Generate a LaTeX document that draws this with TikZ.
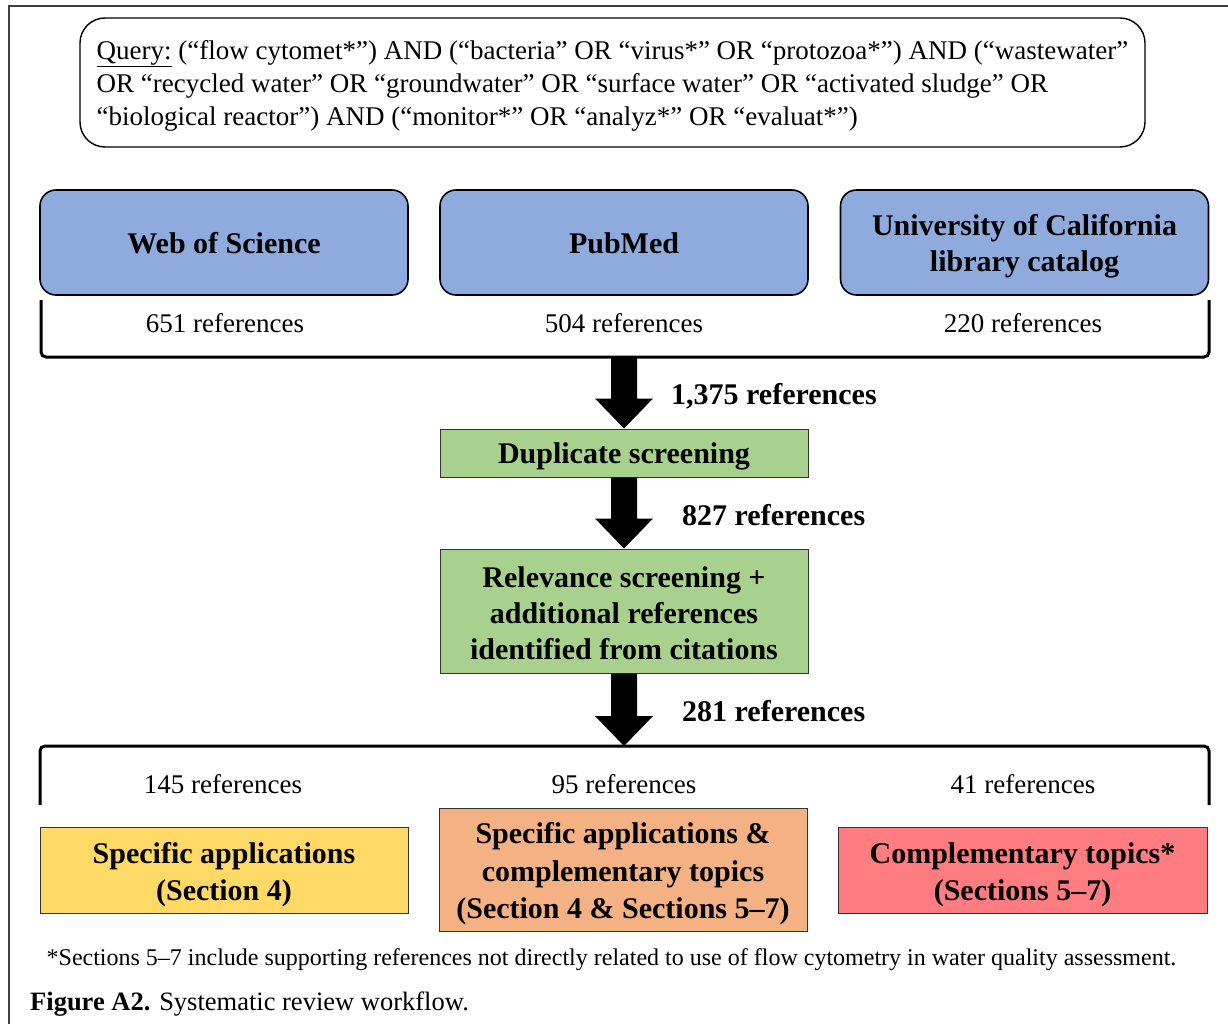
\documentclass[tikz,border=0pt]{standalone}
\usepackage{fontspec}
\setmainfont{Liberation Serif}
\usetikzlibrary{calc}
\definecolor{dbblue}{HTML}{8FAADC}
\definecolor{stepgreen}{HTML}{A9D18E}
\definecolor{outyellow}{HTML}{FFD966}
\definecolor{outorange}{HTML}{F4B183}
\definecolor{outred}{HTML}{FF7C80}
\newcommand\flowarrow[2]{%
  \fill ($(#1)+(-13,0)$) -- ($(#2)+(-13,-30)$) -- ($(#2)+(-29,-30)$) -- (#2)
        -- ($(#2)+(29,-30)$) -- ($(#2)+(13,-30)$) -- ($(#1)+(13,0)$) -- cycle;}
\begin{document}
\begin{tikzpicture}[x=1pt,y=-1pt,
  bfont/.style={font=\fontsize{30}{36}\selectfont\bfseries},
  rfont/.style={font=\fontsize{27}{33}\selectfont},
  dbbox/.style={draw=black, line width=1.6pt, fill=dbblue, rounded corners=16pt,
    minimum width=368pt, minimum height=105pt, inner sep=0pt},
  stepbox/.style={draw=black!80, line width=1pt, fill=stepgreen,
    minimum width=368pt, inner sep=0pt},
  outbox/.style={draw=black!80, line width=1pt, minimum width=368pt, inner sep=0pt},
  boxtext/.style={bfont, align=center, inner sep=0pt},
  count/.style={rfont, inner sep=0pt},
  flowlabel/.style={bfont, anchor=west, inner sep=0pt},
  bracket/.style={line width=3pt, rounded corners=5pt},
  frameline/.style={line width=1.5pt, black!75}
]
\useasboundingbox (0,0) rectangle (1228,1024);
\draw[frameline] (9,1024) -- (9,6) -- (1228,6);

% query
\node[draw=black, line width=1.4pt, rounded corners=25pt, minimum width=1065pt,
  minimum height=129pt, inner sep=0pt] (query) at (612.5,82.5) {};
\node[align=left, inner sep=0pt, font=\fontsize{27}{33}\selectfont] (querytext)
  at ($(query.center)+(0,3)$)
  {\underline{Query:} (“flow cytomet*”) AND (“bacteria” OR “virus*” OR “protozoa*”) AND (“wastewater”\\
   OR “recycled water” OR “groundwater” OR “surface water” OR “activated sludge” OR\\
   “biological reactor”) AND (“monitor*” OR “analyz*” OR “evaluat*”)};

% databases
\node[dbbox] (wos) at (224,242.5) {};
\node[boxtext] (wostext) at ($(wos.center)+(0,1)$) {Web of Science};
\node[dbbox] (pubmed) at (624,242.5) {};
\node[boxtext] (pubmedtext) at ($(pubmed.center)+(0,1)$) {PubMed};
\node[dbbox] (ucl) at (1024.5,242.5) {};
\node[boxtext] (ucltext) at ($(ucl.center)+(0,4)$) {University of California\\library catalog};

\node[count] (c651) at (225,323) {651 references};
\node[count] (c504) at (624,323) {504 references};
\node[count] (c220) at (1023,323) {220 references};

\draw[bracket] (41,300) -- (41,357) -- (1209,357) -- (1209,300);
\coordinate (brk1) at (624,357);

% screening
\node[stepbox, minimum height=48pt] (dup) at (624,453) {};
\node[boxtext] (duptext) at ($(dup.center)+(0,3.5)$) {Duplicate screening};
\node[stepbox, minimum height=124pt] (rel) at (624,611) {};
\node[boxtext] (reltext) at ($(rel.center)+(0,2)$)
  {Relevance screening +\\additional references\\identified from citations};

\coordinate (brk2) at (624,746);
\draw[bracket] (40,805) -- (40,746) -- (1209,746) -- (1209,805);

\flowarrow{brk1}{dup.north}
\flowarrow{dup.south}{rel.north}
\flowarrow{rel.south}{brk2}

\node[flowlabel] (l1375) at (671,396) {1,375 references};
\node[flowlabel] (l827) at (682,515) {827 references};
\node[flowlabel] (l281) at (682,711) {281 references};

\node[count] (c145) at (223,784) {145 references};
\node[count] (c95) at (624,784) {95 references};
\node[count] (c41) at (1023,784) {41 references};

% outcomes
\node[outbox, fill=outyellow, minimum height=86pt] (spec) at (224,870) {};
\node[boxtext, font=\fontsize{30}{37}\selectfont\bfseries] (spectext)
  at ($(spec.center)+(0,4.5)$) {Specific applications\\(Section 4)};
\node[outbox, fill=outorange, minimum height=123pt] (both) at (623,869.5) {};
\node[boxtext, font=\fontsize{30}{37.5}\selectfont\bfseries] (bothtext)
  at ($(both.center)+(0,4.5)$) {Specific applications \&\\complementary topics\\(Section 4 \& Sections 5–7)};
\node[outbox, fill=outred, minimum height=86pt, minimum width=369pt] (comp) at (1022.5,870) {};
\node[boxtext, font=\fontsize{30}{37}\selectfont\bfseries] (comptext)
  at ($(comp.center)+(0,4.5)$) {Complementary topics*\\(Sections 5–7)};

\node[inner sep=0pt, font=\fontsize{24}{28}\selectfont] (foot) at (611.5,959.5)
  {*Sections 5–7 include supporting references not directly related to use of flow cytometry in water quality assessment.};
\node[inner sep=0pt, anchor=west, font=\fontsize{26.5}{30}\selectfont] (cap) at (30,1004)
  {\textbf{Figure A2.} Systematic review workflow.};
\end{tikzpicture}
\end{document}
